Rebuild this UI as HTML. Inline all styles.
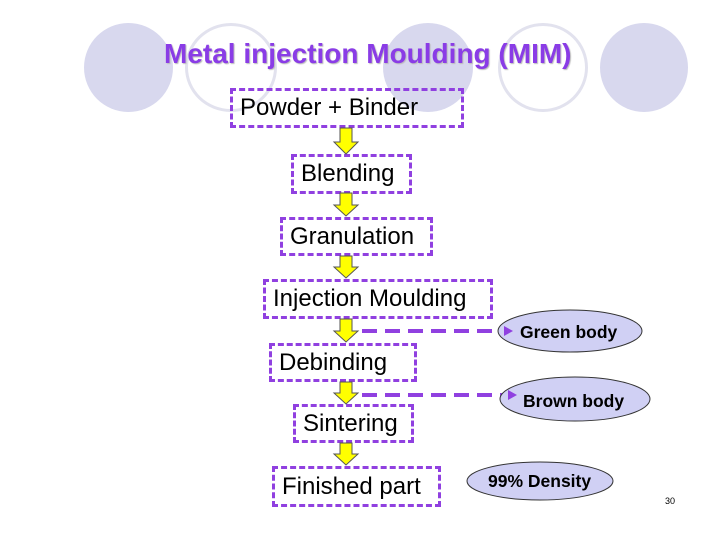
<!DOCTYPE html>
<html><head><style>
body{margin:0;width:720px;height:540px;background:#fff;position:relative;overflow:hidden;font-family:"Liberation Sans",sans-serif}
.c{position:absolute;border-radius:50%}
.f{background:#d8d8ee}
.o{border:3px solid #e2e2ee;box-sizing:border-box}
.b{position:absolute;border:3px dashed #9040e0;box-sizing:border-box;font-size:24px;color:#000;line-height:1;padding-left:7px;display:flex;align-items:center;white-space:nowrap}
.t{position:absolute;left:164px;top:40px;font-size:28px;font-weight:bold;color:#8a3ce6;text-shadow:1px 1px 1px #bbb;white-space:nowrap;line-height:1}
</style></head><body>
<div class="c f" style="left:84px;top:23px;width:89px;height:89px"></div>
<div class="c o" style="left:185px;top:23px;width:92px;height:89px"></div>
<div class="c f" style="left:383px;top:23px;width:90px;height:89px"></div>
<div class="c o" style="left:498px;top:23px;width:90px;height:89px"></div>
<div class="c f" style="left:600px;top:23px;width:88px;height:89px"></div>
<div class="t">Metal injection Moulding (MIM)</div>
<div class="b" style="left:230px;top:88px;width:234px;height:40px">Powder + Binder</div>
<div class="b" style="left:291px;top:154px;width:121px;height:40px">Blending</div>
<div class="b" style="left:280px;top:217px;width:153px;height:39px">Granulation</div>
<div class="b" style="left:263px;top:279px;width:230px;height:40px">Injection Moulding</div>
<div class="b" style="left:269px;top:343px;width:148px;height:39px">Debinding</div>
<div class="b" style="left:293px;top:404px;width:121px;height:39px">Sintering</div>
<div class="b" style="left:272px;top:466px;width:169px;height:41px">Finished part</div>
<svg width="720" height="540" style="position:absolute;left:0;top:0">
<g fill="#ffff00" stroke="#555" stroke-width="1">
<path d="M340 128h12v14h6l-12 12l-12-12h6z"/>
<path d="M340 193h12v12h6l-12 11l-12-11h6z"/>
<path d="M340 256h12v11h6l-12 11l-12-11h6z"/>
<path d="M340 319h12v12h6l-12 11l-12-11h6z"/>
<path d="M340 382h12v11h6l-12 11l-12-11h6z"/>
<path d="M340 443h12v11h6l-12 11l-12-11h6z"/>
</g>
<g stroke="#9040e0" stroke-width="4" stroke-dasharray="15,8" fill="none">
<line x1="362" y1="331" x2="505" y2="331"/>
<line x1="362" y1="395" x2="505" y2="395"/>
</g>
<ellipse cx="570" cy="331" rx="72" ry="21" fill="#d0d0f4" stroke="#333"/>
<ellipse cx="575" cy="399" rx="75" ry="22" fill="#d0d0f4" stroke="#333"/>
<ellipse cx="540" cy="481" rx="73" ry="19" fill="#d0d0f4" stroke="#333"/>
<path d="M504 326l9 5l-9 5z" fill="#9040e0"/>
<path d="M508 390l9 5l-9 5z" fill="#9040e0"/>
<g font-family="Liberation Sans,sans-serif" font-weight="bold" font-size="17.5" fill="#000">
<text x="520" y="338">Green body</text>
<text x="523" y="407">Brown body</text>
<text x="488" y="487">99% Density</text>
</g>
<text x="665" y="504" font-size="9" font-family="Liberation Sans,sans-serif">30</text>
</svg>
</body></html>
